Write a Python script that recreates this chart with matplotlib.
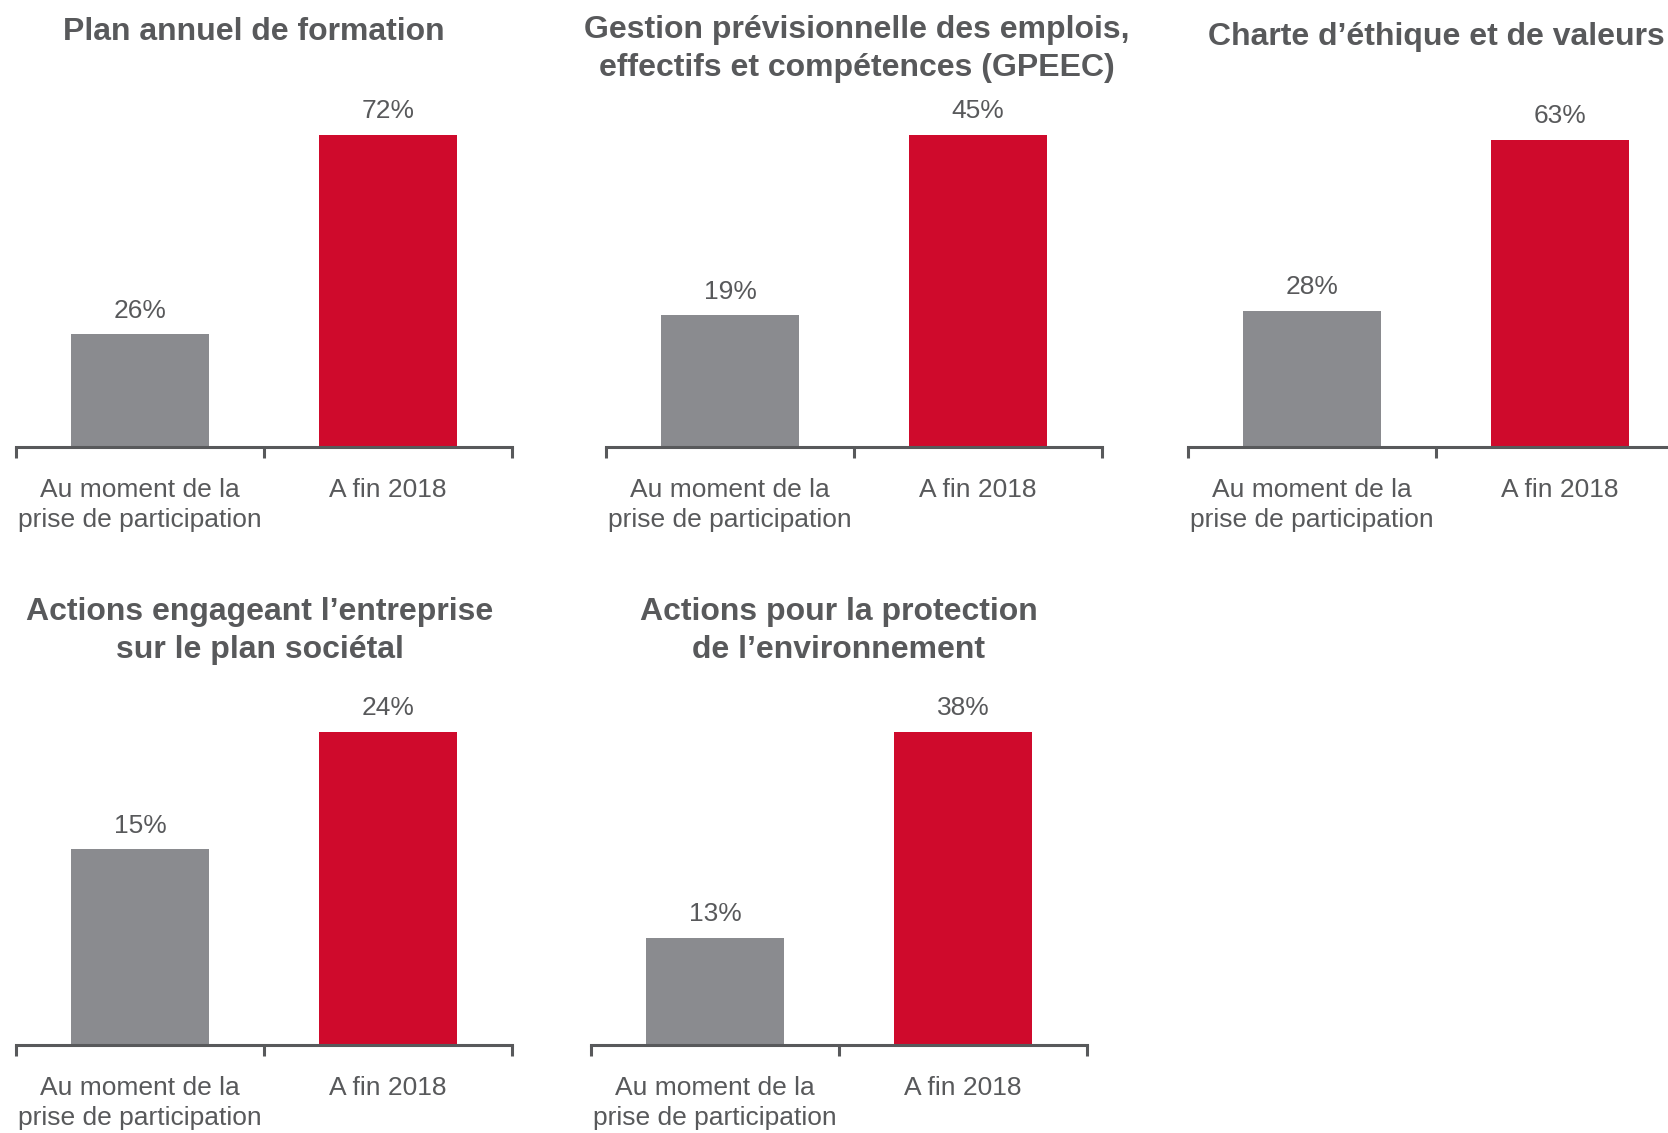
import matplotlib
matplotlib.use('Agg')
from matplotlib import pyplot as plt

plt.rcParams['font.family'] = ['Liberation Sans', 'DejaVu Sans']

# data
titles = ['Plan annuel de formation',
          'Gestion prévisionnelle des emplois,\neffectifs et compétences (GPEEC)',
          'Charte d\u2019éthique et de valeurs',
          'Actions engageant l\u2019entreprise\nsur le plan sociétal',
          'Actions pour la protection\nde l\u2019environnement']
categories = ['Au moment de la\nprise de participation', 'A fin 2018']
before = [26, 19, 28, 15, 13]
end_2018 = [72, 45, 63, 24, 38]

W, H = 1668, 1133
text_col = '#58595b'
bar_cols = ['#8a8b8f', '#cf0a2c']

# panel frames in pixels: x0, x1, baseline, top of highest bar, title centre x offset, title centre y
frames = [(16, 512, 447, 135, -10, 32),
          (606, 1102, 447, 135, 3, 49),
          (1188, 1684, 447, 140, 0, 37),
          (16, 512, 1045, 732, -4, 631),
          (591, 1087, 1045, 732, 0, 631)]

fig = plt.figure(figsize=(W / 100, H / 100), dpi=100)

for i, (x0, x1, base, top, tdx, ty) in enumerate(frames):
    ax = fig.add_axes([x0 / W, 1 - base / H, (x1 - x0) / W, (base - top) / H])
    vals = [before[i], end_2018[i]]
    ax.bar([0, 1], vals, width=0.555, color=bar_cols)
    ax.set_xlim(-0.5, 1.5)
    ax.set_ylim(0, max(vals))
    for x, v in zip([0, 1], vals):
        ax.annotate(f'{v}%', (x, v), xytext=(0, 17), textcoords='offset points',
                    ha='center', va='center', fontsize=19, color=text_col)
    for s in ['top', 'left', 'right']:
        ax.spines[s].set_visible(False)
    ax.spines['bottom'].set_color(text_col)
    ax.spines['bottom'].set_linewidth(2.2)
    ax.set_yticks([])
    ax.set_xticks([0, 1])
    ax.set_xticklabels(categories, fontsize=19, color=text_col)
    ax.tick_params(axis='x', which='major', length=0, pad=22)
    ax.set_xticks([-0.5, 0.5, 1.5], minor=True)
    ax.tick_params(axis='x', which='minor', length=8, width=2.2, color=text_col)
    for lbl in ax.get_xticklabels():
        lbl.set_linespacing(1.36)
    fig.text(((x0 + x1) / 2 + tdx) / W, 1 - ty / H, titles[i], ha='center', va='center',
             fontsize=23, fontweight='bold', color=text_col, linespacing=1.32)

fig.savefig('out.png', dpi=100)
